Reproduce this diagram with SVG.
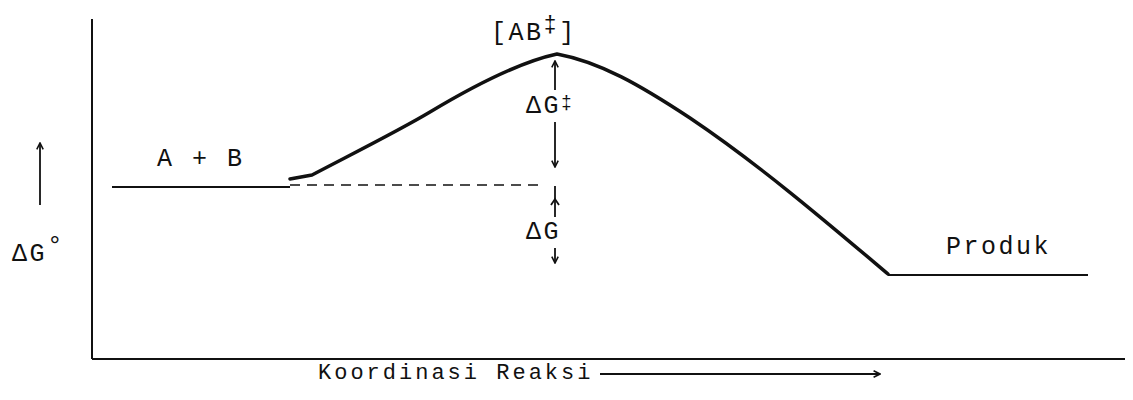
<svg xmlns="http://www.w3.org/2000/svg" width="1133" height="400" viewBox="0 0 1133 400">
<style>
text{font-family:"Liberation Mono","DejaVu Sans Mono",monospace;fill:#111;}
.lbl{font-size:25px;letter-spacing:2.5px;}
.axis{stroke:#111;stroke-width:2;fill:none;}
.lvl{stroke:#111;stroke-width:1.8;fill:none;}
.curve{stroke:#111;stroke-width:3.5;fill:none;stroke-linecap:round;stroke-linejoin:round;}
.arr{stroke:#111;stroke-width:1.8;fill:none;}
.dash{stroke:#111;stroke-width:1.6;fill:none;stroke-dasharray:10,7;}
</style>
<defs>
<marker id="ah" viewBox="0 0 10 10" refX="9" refY="5" markerWidth="8" markerHeight="8" orient="auto" markerUnits="userSpaceOnUse">
<path d="M1,1 L9,5 L1,9" fill="none" stroke="#111" stroke-width="2"/>
</marker>
</defs>
<g id="axes">
<line class="axis" x1="92" y1="19" x2="92" y2="359"/>
<line class="axis" x1="92" y1="359" x2="1125" y2="359"/>
</g>
<g id="connectors">
<path class="curve" d="M290,179 L312,175 C350,155 400,130 430,112 C470,88 520,62 557,54 C600,62 640,85 690,118 C760,165 830,225 888,274"/>
<line class="lvl" x1="112" y1="187" x2="290" y2="187"/>
<line class="dash" x1="290" y1="185" x2="542" y2="185"/>
<line class="lvl" x1="888" y1="275" x2="1088" y2="275"/>
<line class="arr" x1="40" y1="205" x2="40" y2="143" marker-end="url(#ah)"/>
<line class="arr" x1="555" y1="90" x2="555" y2="61" marker-end="url(#ah)"/>
<line class="arr" x1="555" y1="122" x2="555" y2="167" marker-end="url(#ah)"/>
<line class="arr" x1="555" y1="217" x2="555" y2="186"/>
<path class="arr" d="M551,205 L555,199 L559,205"/>
<line class="arr" x1="555" y1="248" x2="555" y2="263" marker-end="url(#ah)"/>
<line class="arr" x1="600" y1="374" x2="880" y2="374" marker-end="url(#ah)"/>
</g>
<g id="n-ts"><text class="lbl" x="491" y="40">[AB<tspan font-size="22" dy="-9">‡</tspan><tspan dy="9">]</tspan></text></g>
<g id="n-dgts"><text class="lbl" x="526" y="113" letter-spacing="1">ΔG<tspan font-size="18" dy="-5">‡</tspan></text></g>
<g id="n-dg"><text class="lbl" x="526" y="239" letter-spacing="1">ΔG</text></g>
<g id="n-dg0"><text class="lbl" x="12" y="261" letter-spacing="3">ΔG<tspan font-size="26" dy="-8">°</tspan></text></g>
<g id="n-ab"><text class="lbl" x="157" y="166">A + B</text></g>
<g id="n-prod"><text class="lbl" x="946" y="254">Produk</text></g>
<g id="n-x"><text class="lbl" x="318" y="379" style="font-size:22px;letter-spacing:3px">Koordinasi Reaksi</text></g>
</svg>
